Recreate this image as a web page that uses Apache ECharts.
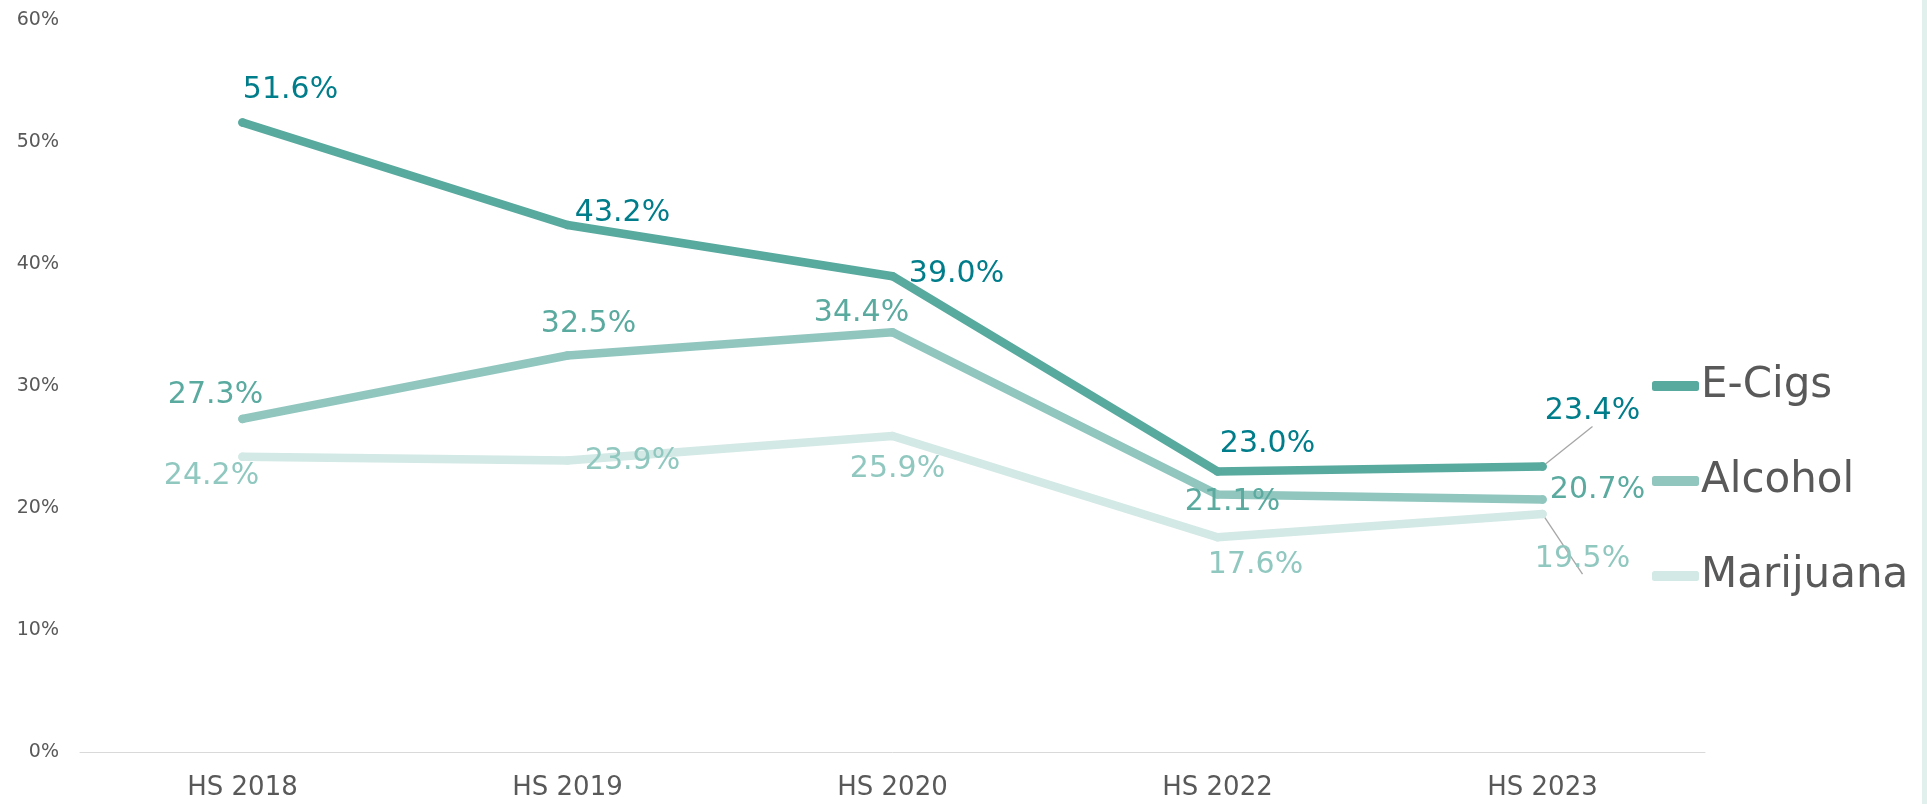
<!DOCTYPE html>
<html>
<head>
<meta charset="utf-8">
<script src="https://cdn.jsdelivr.net/npm/echarts@6/dist/echarts.min.js"></script>
<style>
  html, body { margin: 0; padding: 0; background: #fff; }
  #main { width: 1927px; height: 804px; }
</style>
</head>
<body>
<div id="main"></div>
<script>
// data
const categories = ['HS 2018', 'HS 2019', 'HS 2020', 'HS 2022', 'HS 2023']
const eCigs = [51.6, 43.2, 39.0, 23.0, 23.4]
const alcohol = [27.3, 32.5, 34.4, 21.1, 20.7]
const marijuana = [24.2, 23.9, 25.9, 17.6, 19.5]

// label offsets from the point (label centre)
const eCigsOffsets = [[48, -32], [55, -12], [64, -2], [50, -27], [50, -55]]
const alcoholOffsets = [[-27, -24], [21, -31], [-31, -19], [15, 8], [55, -9]]
const marijuanaOffsets = [[-31, 19], [65, 1], [5, 33], [38, 28], [40, 45]]

const font = 'DejaVu Sans, Verdana, sans-serif'

function makeData(values, offsets, leader) {
  return values.map((v, i) => {
    let item = {value: v, label: {offset: offsets[i]}}
    if (leader && leader[i]) {
      item.labelLine = {show: true, lineStyle: {color: '#a6a6a6', width: 1.3}}
    }
    return item
  })
}

function lineSeries(name, values, offsets, lineColor, labelColor, leader) {
  return {
    name: name,
    type: 'line',
    data: makeData(values, offsets, leader),
    symbol: 'circle',
    symbolSize: 8.5,
    showSymbol: true,
    lineStyle: {color: lineColor, width: 8.5, cap: 'round', join: 'round'},
    itemStyle: {color: lineColor},
    label: {
      show: true,
      position: 'inside',
      color: labelColor,
      fontFamily: font,
      fontSize: 30,
      formatter: p => p.value.toFixed(1) + '%'
    },
    labelLine: {show: false},
    emphasis: {disabled: true},
    animation: false
  }
}

let myChart = echarts.init(document.getElementById('main'))
let option = {
  backgroundColor: '#fff',
  grid: {left: 80, right: 222, top: 20, bottom: 52, containLabel: false},
  legend: {
    orient: 'vertical',
    left: 1647,
    top: 357,
    itemWidth: 47,
    itemHeight: 10,
    itemGap: 47,
    icon: 'roundRect',
    textStyle: {color: '#595959', fontFamily: font, fontSize: 42, lineHeight: 48, padding: [0, 0, 0, -3]},
    data: ['E-Cigs', 'Alcohol', 'Marijuana']
  },
  xAxis: {
    type: 'category',
    data: categories,
    boundaryGap: true,
    axisLine: {show: true, lineStyle: {color: '#d9d9d9', width: 1}},
    axisTick: {show: false},
    axisLabel: {color: '#595959', fontFamily: font, fontSize: 26, margin: 23}
  },
  yAxis: {
    type: 'value',
    min: 0,
    max: 60,
    interval: 10,
    axisLine: {show: false},
    axisTick: {show: false},
    splitLine: {show: false},
    axisLabel: {color: '#595959', fontFamily: font, fontSize: 19, margin: 21, formatter: '{value}%'}
  },
  graphic: [{
    type: 'rect',
    right: 0,
    top: 0,
    shape: {width: 5, height: 804},
    style: {fill: '#e2f0ed'}
  }],
  series: [
    lineSeries('E-Cigs', eCigs, eCigsOffsets, '#58a99e', '#007d8a', [0, 0, 0, 0, 1]),
    lineSeries('Alcohol', alcohol, alcoholOffsets, '#91c6bf', '#5aaa9f', null),
    lineSeries('Marijuana', marijuana, marijuanaOffsets, '#d3e9e5', '#90c8c0', [0, 0, 0, 0, 1])
  ]
}
myChart.setOption(option)
</script>
</body>
</html>
